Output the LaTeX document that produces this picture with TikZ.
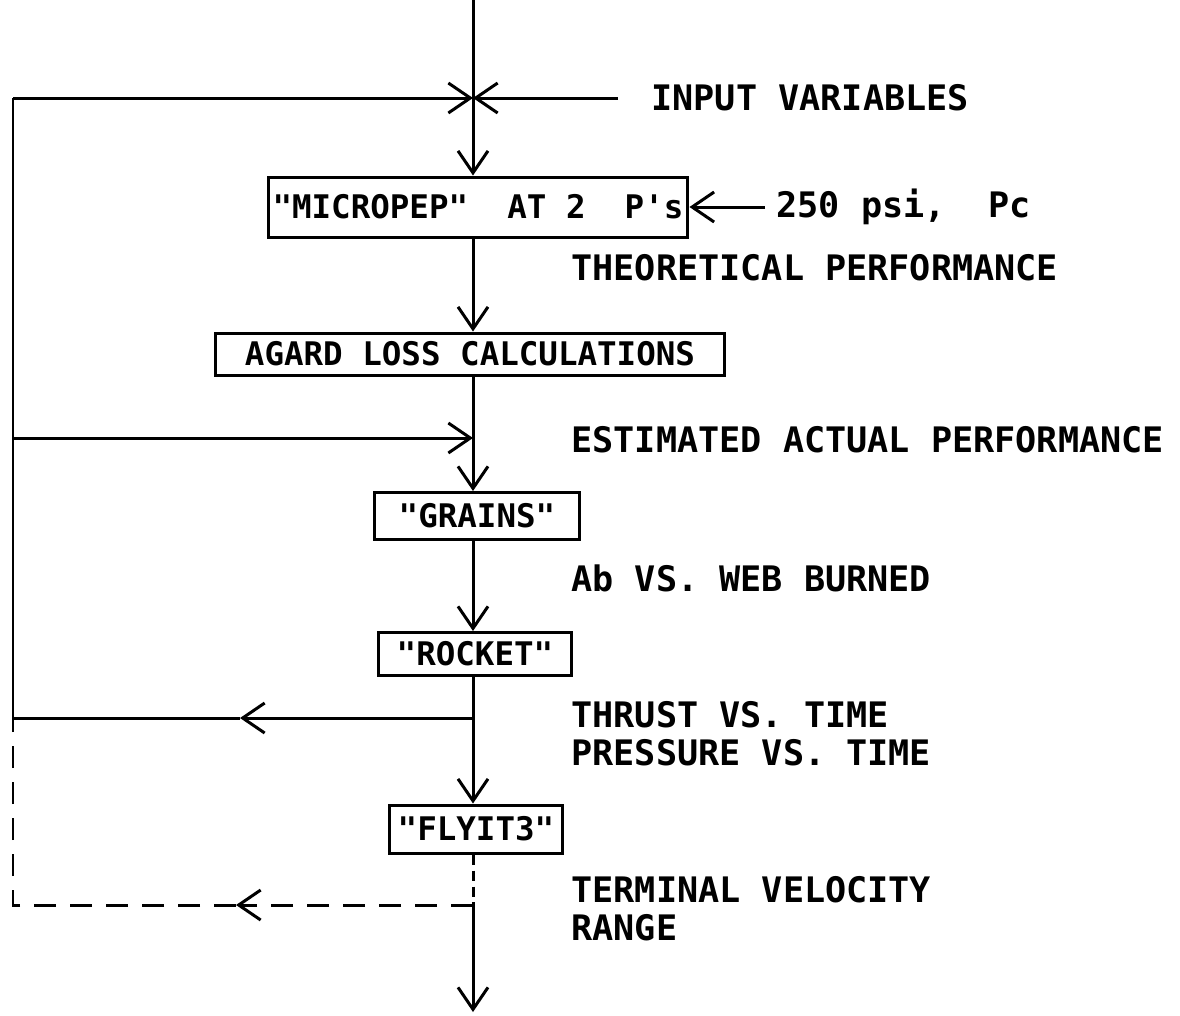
\documentclass[tikz,border=0pt]{standalone}
\usepackage{fontspec}
\setmonofont{DejaVu Sans Mono}
\usetikzlibrary{arrows.meta}
\usetikzlibrary{positioning}

\begin{document}
\begin{tikzpicture}[
		x=0.02cm,y=-0.02cm,
		line width=0.06cm,
		flow/.style={-{Straight Barb[length=0.44cm,width=0.6cm,line width=0.06cm]}},
		box/.style={draw,inner sep=0pt,font=\ttfamily\bfseries\fontsize{18.5}{22}\selectfont},
		lbl/.style={anchor=west,inner sep=0pt,font=\ttfamily\bfseries\fontsize{20}{24}\selectfont},
		brk/.style={dash pattern=on 0.44cm off 0.28cm}
		]
	\useasboundingbox (0,0) rectangle (1180,1015);
	% program boxes
	\node[box,minimum width=8.4cm,minimum height=1.2cm] (micro) at (478,207) {"MICROPEP"\ \ AT 2\ \ P's};
	\node[box,minimum width=10.2cm,minimum height=0.84cm] (agard) at (470,354) {AGARD LOSS CALCULATIONS};
	\node[box,minimum width=4.1cm,minimum height=0.94cm] (grains) at (477,516) {"GRAINS"};
	\node[box,minimum width=3.86cm,minimum height=0.86cm] (rocket) at (475,654) {"ROCKET"};
	\node[box,minimum width=3.48cm,minimum height=0.96cm] (flyit) at (476,829) {"FLYIT3"};
	% texts
	\node[lbl] (input) at (650,98) {INPUT VARIABLES};
	\node[lbl] (psi) at (775,207) {250 psi,\ \ Pc};
	\node[lbl] (theo) at (570,268) {THEORETICAL PERFORMANCE};
	\node[lbl] (est) at (570,440) {ESTIMATED ACTUAL PERFORMANCE};
	\node[lbl] (ab) at (570,578) {Ab VS. WEB BURNED};
	\node[lbl] (thrust) at (570,715) {THRUST VS. TIME};
	\node[lbl] (press) at (570,753) {PRESSURE VS. TIME};
	\node[lbl] (term) at (570,890) {TERMINAL VELOCITY};
	\node[lbl] (range) at (570,928) {RANGE};
	% junctions
	\coordinate (top) at (473,0);
	\coordinate (jIn) at (473,98);
	\coordinate (inS) at (618,98);
	\coordinate (psiS) at (765,207);
	\coordinate (jEst) at (473,438);
	\coordinate (jThr) at (473,718);
	\coordinate (mThr) at (240,718);
	\coordinate (jTer) at (473,905);
	\coordinate (mTer) at (236,905);
	\coordinate (lIn) at (13,98);
	\coordinate (lEst) at (13,438);
	\coordinate (lThr) at (13,718);
	\coordinate (lTer) at (13,905);
	\coordinate (bot) at (473,1012);
	% main flow
	\draw (top) -- (jIn);
	\draw[flow] (jIn) -- (jIn |- micro.north);
	\draw[flow] (inS) -- (jIn);
	\draw[flow] (psiS) -- (micro.east);
	\draw[flow] (jIn |- micro.south) -- (jIn |- agard.north);
	\draw (jIn |- agard.south) -- (jEst);
	\draw[flow] (jEst) -- (jIn |- grains.north);
	\draw[flow] (jIn |- grains.south) -- (jIn |- rocket.north);
	\draw (jIn |- rocket.south) -- (jThr);
	\draw[flow] (jThr) -- (jIn |- flyit.north);
	\draw[brk,dash pattern=on 0.2cm off 0.12cm] (jIn |- flyit.south) -- (jTer);
	\draw[flow] (jTer) -- (bot);
	% feedback loops
	\draw[flow] (lIn) -- (jIn);
	\draw[flow] (lEst) -- (jEst);
	\draw[flow] (jThr) -- (mThr);
	\draw (mThr) -- (lThr);
	\draw (lIn) -- (lThr);
	\draw[brk,flow] (jTer) -- (mTer);
	\draw[brk] (mTer) -- (lTer) -- (lThr);
\end{tikzpicture}
\end{document}
